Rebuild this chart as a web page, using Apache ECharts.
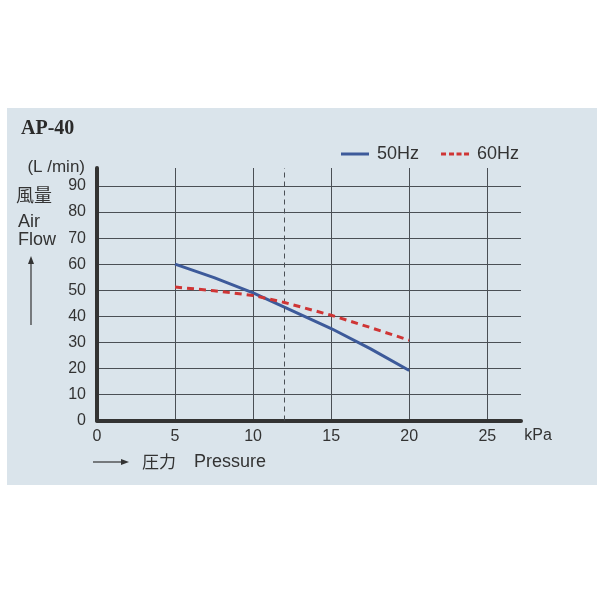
<!DOCTYPE html>
<html>
<head>
<meta charset="utf-8">
<style>
html,body{margin:0;padding:0;background:#ffffff;}
#chart{width:600px;height:600px;}
</style>
<script src="https://cdn.jsdelivr.net/npm/echarts@6/dist/echarts.min.js"></script>
</head>
<body>
<div id="chart"></div>
<script>
// Data
var pressure = [5, 7.5, 10, 12, 15, 17.5, 20];            // kPa
var flow50Hz = [60, 54.8, 49, 43.5, 35.3, 27.6, 19.2];     // L/min
var flow60Hz = [51.2, 49.8, 48, 45.3, 40.4, 35.7, 30.8];   // L/min
var seriesNames = ['50Hz', '60Hz'];
var ratedPressure = [12];                                  // dashed reference line
var xTickLabels = ['0', '5', '10', '15', '20', '25'];
var yTickLabels = ['0', '10', '20', '30', '40', '50', '60', '70', '80', '90'];

function pairs(xs, ys) { return xs.map(function (x, i) { return [x, ys[i]]; }); }

var txt = '#333333';
var sans = '"Liberation Sans", Arial, sans-serif';
var cjk = '"Noto Sans CJK JP", "Noto Sans CJK SC", sans-serif';
var blue = '#3d5a9a', red = '#cf3535';

var chart = echarts.init(document.getElementById('chart'), null, {renderer: 'canvas'});
chart.setOption({
  backgroundColor: '#ffffff',
  animation: false,
  grid: {left: 97, top: 168, width: 424, height: 252.5, containLabel: false},
  legend: {
    data: [
      {name: seriesNames[0], icon: 'path://M0,0H28V3H0Z', itemStyle: {color: blue}},
      {name: seriesNames[1], icon: 'path://M0,0H5V3H0Z M8,0H13V3H8Z M15.5,0H20.5V3H15.5Z M23,0H28V3H23Z', itemStyle: {color: red}}
    ],
    left: 341, top: 145, padding: 0,
    itemWidth: 28, itemHeight: 18, itemGap: 22,
    textStyle: {fontSize: 18, fontFamily: sans, color: txt, lineHeight: 18, padding: [0, 0, 0, 3]}
  },
  xAxis: {
    type: 'value', min: 0, max: 27.16, interval: 5,
    axisLine: {show: true, onZero: false, lineStyle: {color: '#333333', width: 4}},
    axisTick: {show: false},
    splitLine: {show: true, showMinLine: false, showMaxLine: false, lineStyle: {color: '#4a4f55', width: 1}},
    axisLabel: {
      margin: 8, fontSize: 16, fontFamily: sans, color: txt, showMaxLabel: false,
      formatter: function (v) { var s = String(v); return xTickLabels.indexOf(s) >= 0 ? s : ''; }
    }
  },
  yAxis: {
    type: 'value', min: 0, max: 96.9, interval: 10,
    axisLine: {show: true, onZero: false, lineStyle: {color: '#333333', width: 4}},
    axisTick: {show: false},
    splitLine: {show: true, showMinLine: false, showMaxLine: false, lineStyle: {color: '#4a4f55', width: 1}},
    axisLabel: {
      margin: 11, fontSize: 16, fontFamily: sans, color: txt, showMaxLabel: false,
      formatter: function (v) { var s = String(v); return yTickLabels.indexOf(s) >= 0 ? s : ''; }
    }
  },
  series: [
    {
      name: seriesNames[0], type: 'line', data: pairs(pressure, flow50Hz),
      symbol: 'none', smooth: false, z: 4,
      lineStyle: {color: blue, width: 3},
      itemStyle: {color: blue},
      markLine: {
        silent: true, symbol: 'none', label: {show: false},
        lineStyle: {color: '#4a4f55', width: 1, type: [5, 4]},
        data: ratedPressure.map(function (p) { return {xAxis: p}; })
      }
    },
    {
      name: seriesNames[1], type: 'line', data: pairs(pressure, flow60Hz),
      symbol: 'none', smooth: false, z: 5,
      lineStyle: {color: red, width: 3, type: [7, 5]},
      itemStyle: {color: red}
    }
  ],
  graphic: [
    {type: 'rect', z: -10, silent: true, shape: {x: 7, y: 108, width: 590, height: 377}, style: {fill: '#dae4eb'}},
    {type: 'text', left: 21, top: 119, style: {text: 'AP-40', font: 'bold 20px "Liberation Serif", "Times New Roman", serif', fill: '#2a2a2a'}},
    {type: 'text', x: 85, y: 167, style: {text: '(L /min)', font: '17px ' + sans, fill: txt, align: 'right', verticalAlign: 'middle'}},
    {type: 'text', x: 16, y: 195, style: {text: '風量', font: '18px ' + cjk, fill: txt, verticalAlign: 'middle'}},
    {type: 'text', x: 18, y: 222, style: {text: 'Air', font: '18px ' + sans, fill: txt, verticalAlign: 'middle'}},
    {type: 'text', x: 18, y: 240, style: {text: 'Flow', font: '18px ' + sans, fill: txt, verticalAlign: 'middle'}},
    {type: 'line', shape: {x1: 31, y1: 325, x2: 31, y2: 263}, style: {stroke: '#333', lineWidth: 1.2}},
    {type: 'polygon', shape: {points: [[31, 256], [28, 264], [34, 264]]}, style: {fill: '#333'}},
    {type: 'text', x: 538, y: 436, style: {text: 'kPa', font: '16px ' + sans, fill: txt, align: 'center', verticalAlign: 'middle'}},
    {type: 'line', shape: {x1: 93, y1: 462, x2: 122, y2: 462}, style: {stroke: '#333', lineWidth: 1.2}},
    {type: 'polygon', shape: {points: [[129, 462], [121, 459], [121, 465]]}, style: {fill: '#333'}},
    {type: 'text', x: 142, y: 462, style: {text: '圧力', font: '17px ' + cjk, fill: txt, verticalAlign: 'middle'}},
    {type: 'text', x: 194, y: 462, style: {text: 'Pressure', font: '18px ' + sans, fill: txt, verticalAlign: 'middle'}}
  ]
});
</script>
</body>
</html>
